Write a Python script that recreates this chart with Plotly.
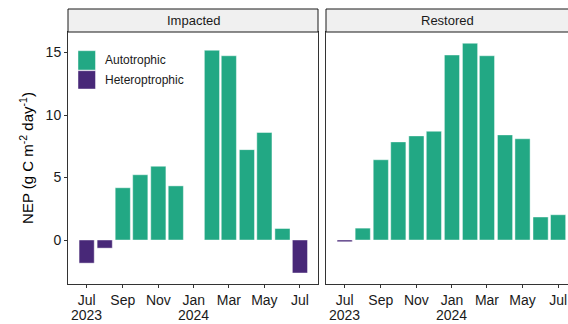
import plotly.graph_objects as go

# ---- data ----
months = ["2023-07-01", "2023-08-01", "2023-09-01", "2023-10-01", "2023-11-01",
          "2023-12-01", "2024-01-01", "2024-02-01", "2024-03-01", "2024-04-01",
          "2024-05-01", "2024-06-01", "2024-07-01"]
impacted = [-1.85, -0.65, 4.18, 5.22, 5.90, 4.33, None, 15.18, 14.74, 7.23, 8.60, 0.92, -2.64]
restored = [-0.14, 0.95, 6.42, 7.85, 8.33, 8.70, 14.80, 15.74, 14.74, 8.41, 8.10, 1.84, 2.02]
panels = ["Impacted", "Restored"]
classes = ["Autotrophic", "Heteroptrophic"]
tick_dates = ["2023-07-01", "2023-09-01", "2023-11-01", "2024-01-01",
              "2024-03-01", "2024-05-01", "2024-07-01"]
tick_labels = ["Jul", "Sep", "Nov", "Jan", "Mar", "May", "Jul"]
year_dates = ["2023-07-01", "2024-01-01"]
year_labels = ["2023", "2024"]
y_ticks = [0, 5, 10, 15]

colors = {"Autotrophic": "#22A884", "Heteroptrophic": "#482878"}
bar_width = 26 * 86400000
font_family = "Liberation Sans, Arial, sans-serif"

fig = go.Figure()


def add_panel(values, xa, ya):
    for cls in classes:
        xs, ys = [], []
        for m, v in zip(months, values):
            if v is None:
                continue
            if (cls == "Autotrophic") == (v >= 0):
                xs.append(m)
                ys.append(v)
        fig.add_trace(go.Bar(
            x=xs, y=ys, width=[bar_width] * len(xs), name=cls, showlegend=False,
            marker=dict(color=colors[cls], line=dict(color="rgba(255,255,255,0.55)", width=0.8)),
            xaxis=xa, yaxis=ya,
        ))


add_panel(impacted, "x", "y")
add_panel(restored, "x2", "y2")

axis_common = dict(
    showgrid=False, zeroline=False, showline=True, linecolor="#333333", linewidth=1,
    tickcolor="#333333", tickwidth=1, ticklen=3, automargin=False,
    tickfont=dict(size=14, color="#1A1A1A", family=font_family),
)

yr = [-3.52, 16.64]
fig.update_layout(
    width=568, height=324,
    margin=dict(l=68, r=0, t=32, b=40, autoexpand=False),
    paper_bgcolor="white", plot_bgcolor="white",
    font=dict(family=font_family),
    barmode="overlay",
    xaxis=dict(domain=[0, 0.5], type="date", range=["2023-05-30", "2024-08-01"],
               tickvals=tick_dates, ticktext=tick_labels, mirror=True, ticks="outside",
               **axis_common),
    xaxis2=dict(domain=[0.516, 1.0], type="date", range=["2023-05-30", "2024-07-18"],
                tickvals=tick_dates, ticktext=tick_labels, mirror=True, ticks="outside",
                **axis_common),
    yaxis=dict(range=yr, tickvals=y_ticks, mirror=True, ticks="outside",
               title=dict(text="NEP (g C m<sup>-2</sup> day<sup>-1</sup>)",
                          font=dict(size=15, color="#000000", family=font_family), standoff=8),
               **axis_common),
    yaxis2=dict(range=yr, anchor="x2", tickvals=y_ticks, showticklabels=False, mirror=False,
                ticks="", **axis_common),
)

# year labels under the month ticks
for xref in ("x", "x2"):
    for d, lab in zip(year_dates, year_labels):
        fig.add_annotation(xref=xref, yref="paper", x=d, y=(284 - 315) / 252, text=lab,
                           showarrow=False, xanchor="center", yanchor="middle",
                           font=dict(size=14, color="#1A1A1A", family=font_family))

# strips
strip_y0 = 1.0
strip_y1 = (284 - 9) / 252
strip_spans = [(0.0, 0.5), (0.516, 1.03)]
for (x0, x1), label in zip(strip_spans, panels):
    fig.add_shape(type="rect", xref="paper", yref="paper", x0=x0, x1=x1, y0=strip_y0, y1=strip_y1,
                  fillcolor="#F0F0F0", line=dict(color="#1A1A1A", width=1), layer="above")
    fig.add_annotation(xref="paper", yref="paper", x=(x0 + min(x1, 1.0)) / 2,
                       y=(strip_y0 + strip_y1) / 2, text=label, showarrow=False,
                       font=dict(size=13, color="#1A1A1A", family=font_family),
                       xanchor="center", yanchor="middle")

# legend (manual, inside left panel)
leg = [(classes[0], 50.7, 70.0), (classes[1], 70.7, 89.0)]
for cls, top, bot in leg:
    fig.add_shape(type="rect", xref="paper", yref="paper",
                  x0=(78 - 68) / 500, x1=(95.5 - 68) / 500,
                  y0=(284 - bot) / 252, y1=(284 - top) / 252,
                  fillcolor=colors[cls], line=dict(color="rgba(255,255,255,0.55)", width=0.8))
    fig.add_annotation(xref="paper", yref="paper", x=(103 - 68) / 500,
                       y=(284 - (top + bot) / 2) / 252, text=cls, showarrow=False,
                       xanchor="left", yanchor="middle",
                       font=dict(size=12, color="#1A1A1A", family=font_family))

fig.write_html("out.html", config={"displayModeBar": False},
               post_script="document.body.style.margin='0';document.body.style.overflow='hidden';")
